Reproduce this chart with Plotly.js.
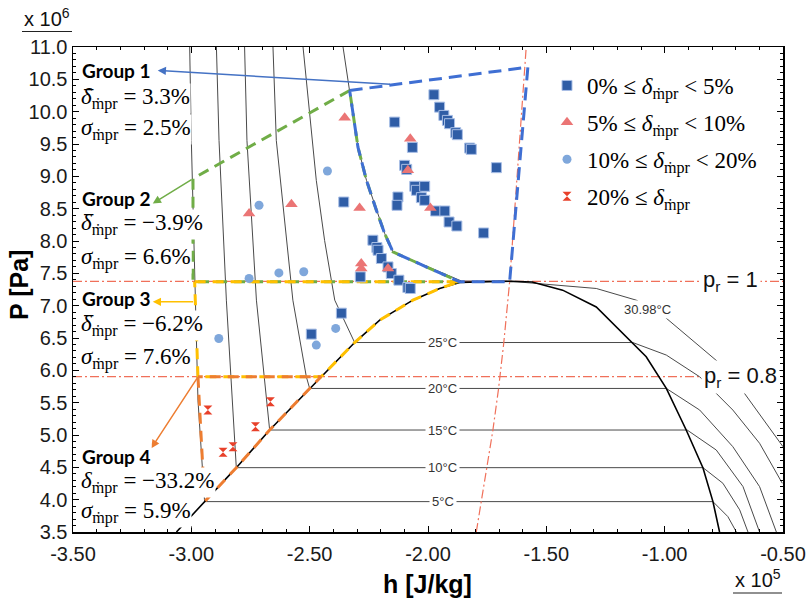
<!DOCTYPE html>
<html><head><meta charset="utf-8">
<script src="https://cdn.plot.ly/plotly-3.0.1.min.js"></script>
<style>html,body{margin:0;padding:0;background:#fff}</style>
</head><body><div id="chart" style="width:809px;height:602px"></div>
<script>
// ---------------- DATA (h in 1e5 J/kg, P in 1e6 Pa) ----------------
const xTickVals = [-3.5,-3.0,-2.5,-2.0,-1.5,-1.0,-0.5];
const xTickText = ['-3.50','-3.00','-2.50','-2.00','-1.50','-1.00','-0.50'];
const yTickVals = [3.5,4.0,4.5,5.0,5.5,6.0,6.5,7.0,7.5,8.0,8.5,9.0,9.5,10.0,10.5,11.0];
const yTickText = ['3.5','4.0','4.5','5.0','5.5','6.0','6.5','7.0','7.5','8.0','8.5','9.0','9.5','10.0','10.5','11.0'];

const Pcrit = 7.377;
const prLevels = [1, 0.8];
const prLabels = ['p<sub>r</sub> = 1', 'p<sub>r</sub> = 0.8'];
const prLabelH = [-0.721, -0.679];

// saturation dome
const domeH = [-3.063,-2.944,-2.810,-2.669,-2.500,-2.310,-2.204,-2.064,-1.951,-1.866,-1.740,-1.650,-1.560,-1.431,-1.289,-1.135,-1.078,-0.993,-0.909,-0.838,-0.796,-0.768];
const domeP = [3.5,3.97,4.495,5.077,5.72,6.43,6.776,7.085,7.266,7.358,7.372,7.377,7.365,7.24,6.98,6.42,6.21,5.72,5.077,4.49,3.97,3.5];

// isotherms
const isoNames = ['5°C','10°C','15°C','20°C','25°C'];
const isoSatP = [3.97, 4.495, 5.077, 5.72, 6.43];
const iso5H  = [-3.007,-3.000,-2.972,-2.944,-0.796,-0.733,-0.697];
const iso5P  = [11,9.556,5.54,3.97,3.97,3.738,3.5];
const iso10H = [-2.894,-2.883,-2.852,-2.810,-0.838,-0.754,-0.683,-0.648];
const iso10P = [11,9.556,7.085,4.495,4.495,4.254,3.842,3.5];
const iso15H = [-2.775,-2.765,-2.725,-2.669,-0.905,-0.782,-0.669,-0.599];
const iso15P = [11,9.556,7.085,5.077,5.077,4.768,4.202,3.5];
const iso20H = [-2.655,-2.641,-2.571,-2.514,-2.500,-0.993,-0.852,-0.712,-0.599,-0.528];
const iso20P = [11,9.556,7.085,5.90,5.72,5.72,5.386,4.819,4.202,3.5];
const iso25H = [-2.528,-2.514,-2.472,-2.437,-2.394,-2.310,-1.135,-0.993,-0.852,-0.712,-0.599,-0.503];
const iso25P = [11,10.483,8.938,8.01,7.085,6.43,6.43,6.236,5.90,5.386,4.872,4.254];
const isoCritH = [-2.359,-2.331,-2.296,-2.260,-2.218,-2.183,-2.148,-1.858,-1.650,-1.289,-1.120,-1.000,-0.775,-0.683,-0.5];
const isoCritP = [11,10.328,9.452,8.938,8.475,8.115,7.831,7.38,7.377,7.266,7.085,6.827,6.132,5.746,4.819];
const isoCritLabel = '30.98°C';

// red dash-dot curve
const redH = [-1.796,-1.775,-1.751,-1.726,-1.702,-1.680,-1.655,-1.621,-1.585];
const redP = [3.5,3.963,4.488,5.07,5.714,6.418,7.37,9.17,11];

// group regions
const g1H = [-2.331,-1.578,-1.655,-1.867,-2.148,-2.183,-2.218,-2.260,-2.296,-2.331];
const g1P = [10.328,10.688,7.37,7.37,7.831,8.115,8.475,8.938,9.452,10.328];
const g2H = [-2.331,-2.993,-2.993,-1.867,-2.148,-2.183,-2.218,-2.260,-2.296,-2.331];
const g2P = [10.328,8.965,7.37,7.37,7.831,8.115,8.475,8.938,9.452,10.328];
const g3H = [-2.986,-1.867,-1.951,-2.064,-2.204,-2.310,-2.452,-2.972,-2.986];
const g3P = [7.37,7.37,7.266,7.085,6.776,6.43,5.90,5.90,7.37];
const g4H = [-2.972,-2.944,-2.810,-2.669,-2.500,-2.452,-2.972];
const g4P = [5.90,3.97,4.495,5.077,5.72,5.90,5.90];

// group statistics
const groupNames  = ['Group 1','Group 2','Group 3','Group 4'];
const groupMeans  = ['3.3%','−3.9%','−6.2%','−33.2%'];
const groupSigmas = ['2.5%','6.6%','7.6%','5.9%'];
const groupMeanBar = [true, true, true, false];
// arrows: tail (on region) -> head (at label)
const arrowTailH = [-2.154,-2.993,-2.986,-2.972];
const arrowTailP = [10.421,8.965,7.06,5.90];
const arrowHeadH = [-3.142,-3.163,-3.163,-3.169];
const arrowHeadP = [10.637,8.578,7.06,4.795];

// measured points, by deviation class
const sqH = [-1.975,-1.951,-1.933,-1.918,-1.909,-1.883,-1.876,-1.824,-1.817,-1.711,-2.141,-2.066,-2.099,-2.090,-2.056,-2.049,-2.014,-2.127,-2.131,-2.028,-2.014,-1.968,-1.929,-1.911,-1.878,-1.765,-2.356,-2.233,-2.216,-2.211,-2.197,-2.169,-2.155,-2.123,-2.085,-2.075,-2.286,-2.366,-2.493];
const sqP = [10.262,10.070,9.942,9.865,9.814,9.675,9.644,9.437,9.417,9.134,9.839,9.448,9.170,9.108,8.846,8.784,8.846,8.680,8.552,8.671,8.629,8.464,8.464,8.294,8.232,8.124,8.603,8.012,7.899,7.857,7.729,7.599,7.497,7.394,7.281,7.266,7.445,6.884,6.560];
const triH = [-2.352,-2.075,-2.085,-2.289,-1.990,-2.282,-2.282,-2.169,-2.756,-2.577];
const triP = [9.907,9.582,9.093,8.510,8.510,7.652,7.575,7.575,8.424,8.568];
const cirH = [-2.714,-2.756,-2.630,-2.525,-2.425,-2.884,-2.472,-2.390];
const cirP = [8.552,7.420,7.507,7.525,9.082,6.493,6.390,6.648];
const hgH = [-2.930,-2.866,-2.824,-2.729,-2.666];
const hgP = [5.386,4.733,4.819,5.128,5.514];
const classNames = ['0% ≤ <i>δ</i><sub>ṁpr</sub> &lt; 5%','5% ≤ <i>δ</i><sub>ṁpr</sub> &lt; 10%','10% ≤ <i>δ</i><sub>ṁpr</sub> &lt; 20%','20% ≤ <i>δ</i><sub>ṁpr</sub>'];

// ---------------- STYLE / LAYOUT ----------------
const L = 73, T = 47, W = 710, H = 485;
const pxX = px => (px - L) / W;
const pxY = py => (T + H - py) / H;
const sans = 'Liberation Sans, Arial, sans-serif';
const serif = 'Liberation Serif, Times New Roman, serif';
const grey = '#4a4a4a';

const traces = [];
const isoSets = [[iso5H,iso5P],[iso10H,iso10P],[iso15H,iso15P],[iso20H,iso20P],[iso25H,iso25P],[isoCritH,isoCritP]];
isoSets.forEach(s => traces.push({x:s[0], y:s[1], mode:'lines', line:{color:grey, width:1}, showlegend:false, hoverinfo:'skip'}));
traces.push({x:domeH, y:domeP, mode:'lines', line:{color:'#000', width:1.6}, showlegend:false});
traces.push({x:redH, y:redP, mode:'lines', line:{color:'#F0705A', width:1.2, dash:'9px,3px,2px,3px'}, showlegend:false});
const groupStyles = [
  [g2H,g2P,'#70AD47','11px,7px'],
  [g3H,g3P,'#FFC000','11px,7px'],
  [g4H,g4P,'#ED7D31','11px,7px'],
  [g1H,g1P,'#3F6FD3','13px,7px']
];
groupStyles.forEach(g => traces.push({x:g[0], y:g[1], mode:'lines', line:{color:g[2], width:3, dash:g[3]}, showlegend:false}));

const mk = [
  [sqH,sqP,{symbol:'square', size:10, color:'#2F5DA6', line:{color:'#A9BFE6', width:1}}],
  [triH,triP,{symbol:'triangle-up', size:11, color:'#EB7575'}],
  [cirH,cirP,{symbol:'circle', size:9, color:'#7FA7DB'}],
  [hgH,hgP,{symbol:'hourglass', size:9, color:'#E8402A'}]
];
mk.forEach((m,i) => traces.push({x:m[0], y:m[1], mode:'markers', marker:m[2], name:classNames[i], legendgroup:'g'+i, showlegend:true}));

const ann = [];
const shapes = [];
// isotherm labels in two-phase region
isoNames.forEach((n,i) => ann.push({x:-1.938, y:isoSatP[i], xref:'x', yref:'y', text:n, showarrow:false, bgcolor:'#fff', borderpad:2, font:{family:sans, size:13, color:'#333'}}));
ann.push({x:-1.073, y:6.941, xref:'x', yref:'y', text:isoCritLabel, showarrow:false, bgcolor:'#fff', borderpad:1, font:{family:sans, size:13, color:'#333'}});
prLevels.forEach((p,i) => ann.push({x:prLabelH[i], y:p*Pcrit, xref:'x', yref:'y', text:prLabels[i], showarrow:false, bgcolor:'#fff', borderpad:2, font:{family:sans, size:22, color:'#111'}}));
// arrows
const arrowColors = ['#4472C4','#70AD47','#FFC000','#ED7D31'];
arrowTailH.forEach((t,i) => ann.push({x:arrowHeadH[i], y:arrowHeadP[i], ax:t, ay:arrowTailP[i], xref:'x', yref:'y', axref:'x', ayref:'y', text:'', showarrow:true, arrowhead:2, arrowsize:1.1, arrowwidth:1.5, arrowcolor:arrowColors[i], standoff:0, startstandoff:0}));
// group text
const labY = [70, 198, 298, 456];
const meanY = [99, 224, 325, 482];
const sigY = [130, 258, 358, 512];
groupNames.forEach((g,i) => {
  ann.push({x:pxX(81), y:pxY(labY[i]), xref:'paper', yref:'paper', xanchor:'left', yanchor:'middle', text:'<b>'+g+'</b>', showarrow:false, bgcolor:'#fff', borderpad:0, font:{family:'Lato, sans-serif', size:19, color:'#000'}});
  ann.push({x:pxX(80), y:pxY(meanY[i]), xref:'paper', yref:'paper', xanchor:'left', yanchor:'middle', text:'<i>δ</i><sub>ṁpr</sub> = '+groupMeans[i], showarrow:false, bgcolor:'#fff', borderpad:0, font:{family:serif, size:23, color:'#000'}});
  ann.push({x:pxX(80), y:pxY(sigY[i]), xref:'paper', yref:'paper', xanchor:'left', yanchor:'middle', text:'<i>σ</i><sub>ṁpr</sub> = '+groupSigmas[i], showarrow:false, bgcolor:'#fff', borderpad:0, font:{family:serif, size:23, color:'#000'}});
});
// mean bars (macron) drawn on top of the text
groupNames.forEach((g,i) => {
  if (groupMeanBar[i]) ann.push({x:pxX(89), y:pxY(meanY[i]-11), xref:'paper', yref:'paper', xanchor:'center', yanchor:'middle', text:'–', showarrow:false, font:{family:sans, size:17, color:'#000'}});
});
// axis titles & multipliers
ann.push({x:pxX(19), y:pxY(285), xref:'paper', yref:'paper', xanchor:'center', yanchor:'middle', text:'<b>P [Pa]</b>', textangle:-90, showarrow:false, font:{family:sans, size:25, color:'#000'}});
ann.push({x:pxX(427), y:pxY(584), xref:'paper', yref:'paper', xanchor:'center', yanchor:'middle', text:'<b>h [J/kg]</b>', showarrow:false, font:{family:sans, size:25, color:'#000'}});
ann.push({x:pxX(47), y:pxY(18), xref:'paper', yref:'paper', xanchor:'center', yanchor:'middle', text:'x 10<sup>6</sup>', showarrow:false, font:{family:sans, size:20, color:'#111'}});
ann.push({x:pxX(758), y:pxY(578), xref:'paper', yref:'paper', xanchor:'center', yanchor:'middle', text:'x 10<sup>5</sup>', showarrow:false, font:{family:sans, size:20, color:'#111'}});

prLevels.forEach(p => shapes.push({type:'line', xref:'paper', x0:0, x1:1, yref:'y', y0:p*Pcrit, y1:p*Pcrit, layer:'below', line:{color:'#F0705A', width:1.2, dash:'9px,3px,2px,3px'}}));
shapes.push({type:'line', xref:'paper', yref:'paper', x0:pxX(22), x1:pxX(72), y0:pxY(31.5), y1:pxY(31.5), line:{color:'#222', width:1.2}});
shapes.push({type:'line', xref:'paper', yref:'paper', x0:pxX(733), x1:pxX(782), y0:pxY(593), y1:pxY(593), line:{color:'#222', width:1.2}});

const axisCommon = {showgrid:false, zeroline:false, showline:true, linecolor:'#000', linewidth:1.5, mirror:'ticks', ticks:'inside', ticklen:6, tickwidth:1, tickcolor:'#000', tickmode:'array', tickfont:{family:sans, size:20, color:'#1a1a1a'}};
const layout = {
  width:809, height:602, margin:{l:L, r:809-L-W, t:T, b:602-T-H},
  paper_bgcolor:'#fff', plot_bgcolor:'#fff',
  xaxis:Object.assign({}, axisCommon, {range:[-3.5,-0.5], tickvals:xTickVals, ticktext:xTickText, ticklabelstandoff:3, minor:{tickmode:'linear', tick0:-3.5, dtick:0.1, ticks:'inside', ticklen:3, tickcolor:'#000', showgrid:false}}),
  yaxis:Object.assign({}, axisCommon, {range:[3.5,11], tickvals:yTickVals, ticktext:yTickText, minor:{tickmode:'linear', tick0:3.5, dtick:0.1, ticks:'inside', ticklen:3, tickcolor:'#000', showgrid:false}}),
  showlegend:true,
  legend:{x:pxX(547), y:pxY(64), xanchor:'left', yanchor:'top', bgcolor:'rgba(0,0,0,0)', traceorder:'grouped', tracegroupgap:4, font:{family:serif, size:23, color:'#000'}},
  annotations:ann, shapes:shapes
};
Plotly.newPlot('chart', traces, layout, {staticPlot:true, displayModeBar:false});
</script></body></html>
